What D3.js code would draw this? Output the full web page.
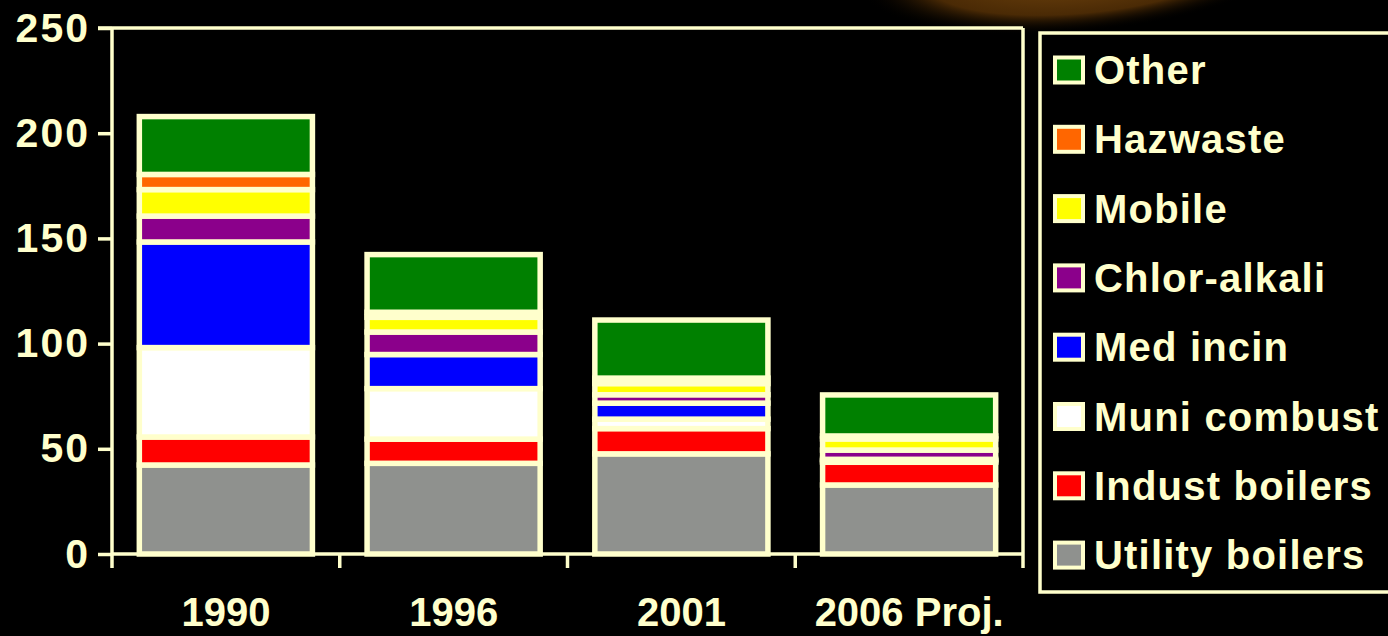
<!DOCTYPE html>
<html>
<head>
<meta charset="utf-8">
<script src="https://cdn.jsdelivr.net/npm/d3@7"></script>
<style>
  html, body { margin: 0; padding: 0; background: #000; }
  svg { display: block; }
  text { font-family: "Liberation Sans", Arial, sans-serif; font-weight: bold; fill: #FFFFCC; }
</style>
</head>
<body>
<svg id="chart" width="1388" height="636"></svg>
<script>
// ---- data ----
const categories = ["1990", "1996", "2001", "2006 Proj."];
const seriesNames = ["Utility boilers", "Indust boilers", "Muni combust", "Med incin", "Chlor-alkali", "Mobile", "Hazwaste", "Other"];
const utilityBoilers = [42.3, 43.1, 47.6, 32.8];
const industBoilers  = [13.3, 11.5, 12.0, 10.8];
const muniCombust    = [42.5, 24.0, 4.5, 0.7];
const medIncin       = [50.2, 16.2, 7.6, 0.7];
const chlorAlkali    = [12.3, 10.7, 4.0, 4.4];
const mobile         = [12.6, 7.0, 5.3, 5.3];
const hazwaste       = [7.2, 2.4, 2.6, 1.4];
const other          = [27.5, 27.4, 27.6, 19.5];
const yTicks = [0, 50, 100, 150, 200, 250];
const colors = ["#8F918E", "#FF0000", "#FFFFFF", "#0000FF", "#8B008B", "#FFFF00", "#FF6600", "#008000"];

const seriesValues = [utilityBoilers, industBoilers, muniCombust, medIncin, chlorAlkali, mobile, hazwaste, other];
const table = categories.map((c, i) => {
  const row = { cat: c };
  seriesNames.forEach((s, j) => row[s] = seriesValues[j][i]);
  return row;
});

// ---- layout ----
const cream = "#FFFFCC";
const svg = d3.select("#chart");
const mLeft = 112, mRight = 1023, mTop = 28, mBottom = 554;

// background glow top-right
const defs = svg.append("defs");
const grad = defs.append("radialGradient").attr("id", "glow");
grad.append("stop").attr("offset", "0%").attr("stop-color", "#7a4a10");
grad.append("stop").attr("offset", "70%").attr("stop-color", "#4a2a05");
grad.append("stop").attr("offset", "100%").attr("stop-color", "#000").attr("stop-opacity", 0);
svg.append("ellipse")
  .attr("cx", 1080).attr("cy", -30).attr("rx", 220).attr("ry", 62)
  .attr("transform", "rotate(-5 1080 -30)")
  .attr("fill", "url(#glow)");

const x = d3.scaleBand().domain(categories).range([mLeft, mRight]).paddingInner(0.24).paddingOuter(0.12);
const y = d3.scaleLinear().domain([0, 250]).range([mBottom, mTop]);

const stack = d3.stack().keys(seriesNames);
const layers = stack(table);

// bars
svg.append("g").selectAll("g")
  .data(layers)
  .join("g")
  .attr("fill", (d, i) => colors[i])
  .selectAll("rect")
  .data(d => d)
  .join("rect")
  .attr("x", d => x(d.data.cat))
  .attr("width", x.bandwidth())
  .attr("y", d => y(d[1]))
  .attr("height", d => y(d[0]) - y(d[1]))
  .attr("stroke", cream)
  .attr("stroke-width", 5.5);

// y axis
const yAxis = svg.append("g")
  .attr("transform", `translate(${mLeft},0)`)
  .call(d3.axisLeft(y).tickValues(yTicks).tickSize(14).tickPadding(8).tickSizeOuter(0));
yAxis.select(".domain").remove();
yAxis.selectAll(".tick line").attr("stroke", cream).attr("stroke-width", 3.5);
yAxis.selectAll(".tick text")
  .attr("font-size", 41)
  .attr("letter-spacing", 2)
  .attr("fill", cream)
  .style("font-family", '"Liberation Sans", Arial, sans-serif')
  .style("font-weight", "bold");

// x axis (labels)
const xAxis = svg.append("g")
  .attr("transform", `translate(0,${mBottom})`)
  .call(d3.axisBottom(x).tickSize(0).tickPadding(44).tickSizeOuter(0));
xAxis.select(".domain").remove();
xAxis.selectAll(".tick text")
  .attr("font-size", 40)
  .attr("fill", cream)
  .style("font-family", '"Liberation Sans", Arial, sans-serif')
  .style("font-weight", "bold");

// x boundary ticks
const step = x.step();
const boundaries = d3.range(1, categories.length).map(i => x(categories[i]) - step * x.paddingInner() / 2);
svg.append("g").selectAll("line")
  .data(boundaries)
  .join("line")
  .attr("x1", d => d).attr("x2", d => d)
  .attr("y1", mBottom).attr("y2", mBottom + 14)
  .attr("stroke", cream).attr("stroke-width", 3.5);

// frame
const frame = svg.append("g").attr("stroke", cream).attr("stroke-width", 3.5).attr("fill", "none");
frame.append("line").attr("x1", mLeft).attr("x2", mLeft).attr("y1", mTop).attr("y2", mBottom + 14);
frame.append("line").attr("x1", mRight).attr("x2", mRight).attr("y1", mTop).attr("y2", mBottom + 14);
frame.append("line").attr("x1", mLeft - 14).attr("x2", mRight).attr("y1", mTop).attr("y2", mTop);
frame.append("line").attr("x1", mLeft).attr("x2", mRight).attr("y1", mBottom).attr("y2", mBottom);

// legend
const legendOrder = seriesNames.map((s, i) => ({ name: s, color: colors[i] })).reverse();
svg.append("rect")
  .attr("x", 1040).attr("y", 33).attr("width", 360).attr("height", 559)
  .attr("fill", "none").attr("stroke", cream).attr("stroke-width", 3.5);
const lg = svg.append("g").selectAll("g")
  .data(legendOrder)
  .join("g")
  .attr("transform", (d, i) => `translate(1055,${70 + i * 69.3})`);
lg.append("rect")
  .attr("x", 0).attr("y", -12.5).attr("width", 28).attr("height", 25)
  .attr("fill", d => d.color).attr("stroke", cream).attr("stroke-width", 4);
lg.append("text")
  .attr("x", 39).attr("y", 14)
  .attr("font-size", 40)
  .attr("letter-spacing", 1.2)
  .text(d => d.name);
</script>
</body>
</html>
